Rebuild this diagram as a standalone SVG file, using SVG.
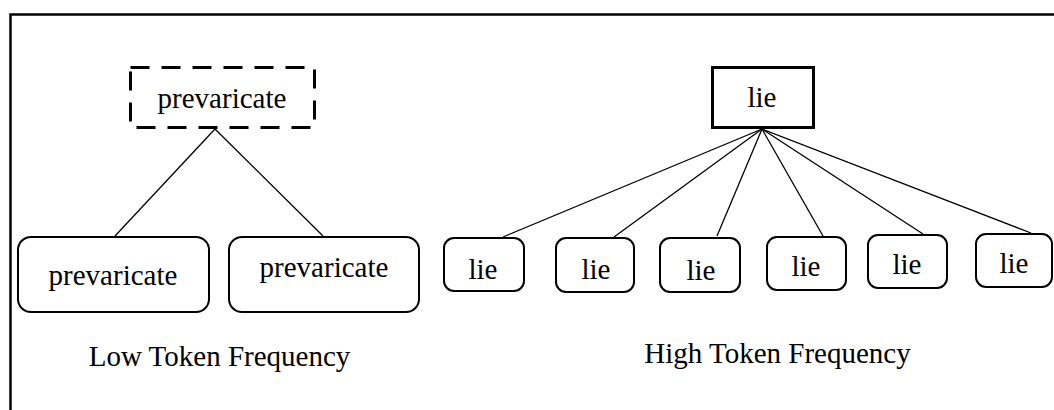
<svg xmlns="http://www.w3.org/2000/svg" width="1054" height="410" viewBox="0 0 1054 410">
<style>
text{font-size:29px;fill:#000;text-anchor:middle}
.rb{fill:#fff;stroke:#000;stroke-width:2}
.ln{stroke:#000;stroke-width:1.3;fill:none}
</style>
<rect width="1054" height="410" fill="#fff"/>
<path d="M10.5,410 V14.5 H1054" fill="none" stroke="#000" stroke-width="2.5"/>
<g id="connectors">
<line class="ln" x1="215" y1="129" x2="115" y2="236"/>
<line class="ln" x1="215" y1="129" x2="323" y2="236"/>
<line class="ln" x1="762" y1="129" x2="503" y2="237"/>
<line class="ln" x1="762" y1="129" x2="614" y2="237"/>
<line class="ln" x1="762" y1="129" x2="717" y2="236"/>
<line class="ln" x1="762" y1="129" x2="823" y2="236"/>
<line class="ln" x1="762" y1="129" x2="923" y2="234"/>
<line class="ln" x1="762" y1="129" x2="1031" y2="233"/>
</g>
<g font-family="'Liberation Serif', 'DejaVu Serif', serif">
<g id="node-prevaricate-top">
<rect x="130.5" y="67.5" width="184" height="60" fill="#fff" stroke="#000" stroke-width="3" stroke-dasharray="19 12"/>
<text x="222" y="108">prevaricate</text>
</g>
<g id="node-prevaricate-1">
<rect class="rb" x="18" y="237" width="191" height="75" rx="13"/>
<text x="113" y="285">prevaricate</text>
</g>
<g id="node-prevaricate-2">
<rect class="rb" x="229" y="237" width="190" height="75" rx="13"/>
<text x="324" y="277">prevaricate</text>
</g>
<g id="node-lie-top">
<rect x="712.5" y="67.5" width="101" height="60" fill="#fff" stroke="#000" stroke-width="3"/>
<text x="762" y="107">lie</text>
</g>
<g id="node-lie-1">
<rect class="rb" x="444" y="238" width="80" height="53" rx="10"/>
<text x="483" y="279">lie</text>
</g>
<g id="node-lie-2">
<rect class="rb" x="556" y="238" width="78" height="54" rx="10"/>
<text x="596" y="279">lie</text>
</g>
<g id="node-lie-3">
<rect class="rb" x="660" y="238" width="80" height="54" rx="10"/>
<text x="701" y="280">lie</text>
</g>
<g id="node-lie-4">
<rect class="rb" x="767" y="237" width="79" height="53" rx="10"/>
<text x="806" y="276">lie</text>
</g>
<g id="node-lie-5">
<rect class="rb" x="868" y="235" width="79" height="53" rx="10"/>
<text x="907" y="274">lie</text>
</g>
<g id="node-lie-6">
<rect class="rb" x="976" y="234" width="76" height="53" rx="10"/>
<text x="1014" y="273">lie</text>
</g>
<g id="labels">
<text x="219.5" y="366">Low Token Frequency</text>
<text x="777.5" y="363">High Token Frequency</text>
</g>
</g>
</svg>
